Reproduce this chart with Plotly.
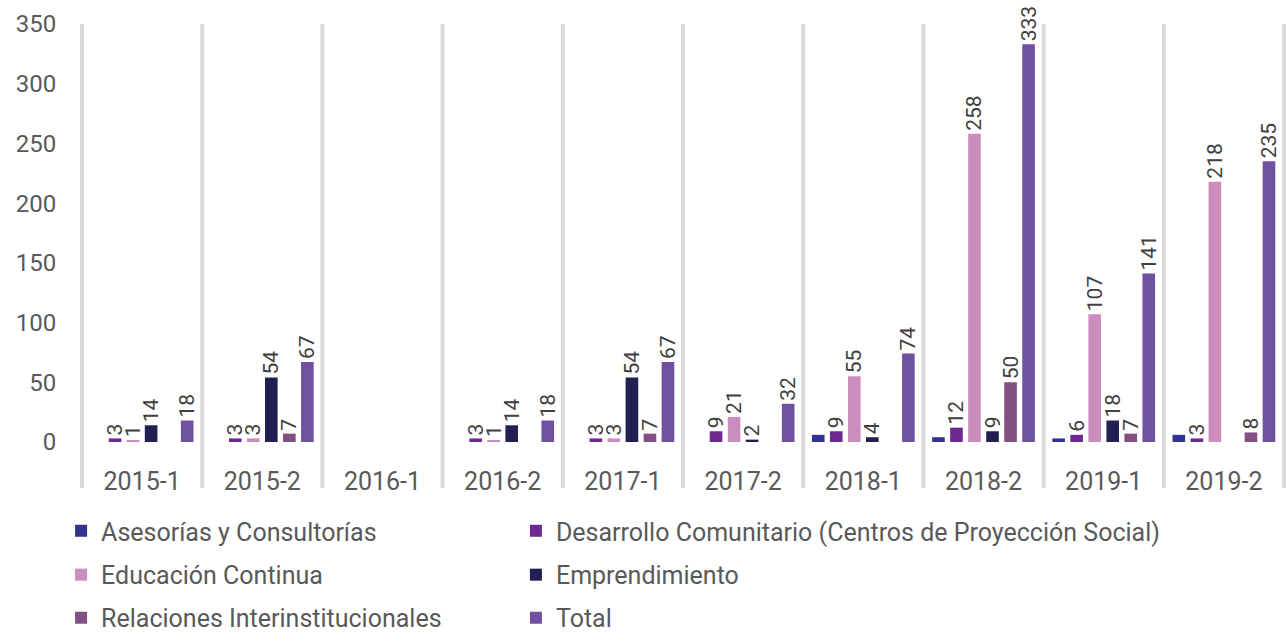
import plotly.graph_objects as go

categories = ["2015-1", "2015-2", "2016-1", "2016-2", "2017-1",
              "2017-2", "2018-1", "2018-2", "2019-1", "2019-2"]

asesorias = [None, None, None, None, None, None, 6, 4, 3, 6]
desarrollo = [3, 3, None, 3, 3, 9, 9, 12, 6, 3]
educacion = [1, 3, None, 1, 3, 21, 55, 258, 107, 218]
emprendimiento = [14, 54, None, 14, 54, 2, 4, 9, 18, None]
relaciones = [None, 7, None, None, 7, None, None, 50, 7, 8]
total = [18, 67, None, 18, 67, 32, 74, 333, 141, 235]

series_names = [
    "Asesorías y Consultorías",
    "Desarrollo Comunitario (Centros de Proyección Social)",
    "Educación Continua",
    "Emprendimiento",
    "Relaciones Interinstitucionales",
    "Total",
]
series_values = [asesorias, desarrollo, educacion, emprendimiento, relaciones, total]
series_colors = ["#303391", "#6F2A92", "#CB8CBE", "#221F52", "#834F83", "#7050A0"]
show_labels = [False, True, True, True, True, True]

y_ticks = [0, 50, 100, 150, 200, 250, 300, 350]

FONT = "Roboto"
GREY = "#595959"

fig = go.Figure()
legend_ids = []
for i, (name, vals, col, lab) in enumerate(zip(series_names, series_values,
                                                series_colors, show_labels)):
    lg = "legend" if i == 0 else f"legend{i + 1}"
    legend_ids.append(lg)
    fig.add_trace(go.Bar(
        x=categories,
        y=vals,
        name=name,
        legend=lg,
        marker=dict(color=col, line=dict(width=0)),
        text=[("" if v is None else str(v)) for v in vals] if lab else None,
        textposition="outside",
        textangle=-90,
        constraintext="none",
        cliponaxis=False,
        textfont=dict(family=FONT, size=21, color="#404040"),
    ))

# category separators
n = len(categories)
for i in range(n + 1):
    fig.add_shape(type="line", xref="paper", yref="paper",
                  x0=i / n, x1=i / n, y0=-0.110, y1=1.0,
                  line=dict(color="#D9D9D9", width=4), layer="below")

# legend: two columns, three rows
col_x = [-0.0174, 0.361]
row_y = [-0.213, -0.318, -0.421]
legend_layout = {}
for i, lg in enumerate(legend_ids):
    legend_layout[lg] = dict(
        orientation="h", x=col_x[i % 2], xanchor="left",
        y=row_y[i // 2], yanchor="middle",
        font=dict(family=FONT, size=25, color=GREY),
        itemwidth=30, bgcolor="rgba(0,0,0,0)",
    )

fig.update_layout(
    width=1286, height=632,
    margin=dict(l=82, r=2, t=24, b=190, autoexpand=False),
    paper_bgcolor="white", plot_bgcolor="white",
    barmode="group", bargap=0.10, bargroupgap=0.3,
    font=dict(family=FONT, color=GREY, size=24),
    showlegend=True,
    xaxis=dict(
        type="category", showgrid=False, zeroline=False, showline=False,
        ticks="outside", ticklen=0, ticklabelstandoff=17,
        tickfont=dict(family=FONT, size=25, color=GREY),
    ),
    yaxis=dict(
        range=[0, 350], tickvals=y_ticks, showgrid=False, zeroline=False,
        showline=False, ticks="outside", ticklen=0, ticklabelstandoff=20,
        tickfont=dict(family=FONT, size=24, color=GREY),
    ),
    **legend_layout,
)

fig.write_html("out.html", config={"displayModeBar": False},
               post_script="document.body.style.margin='0px';")
